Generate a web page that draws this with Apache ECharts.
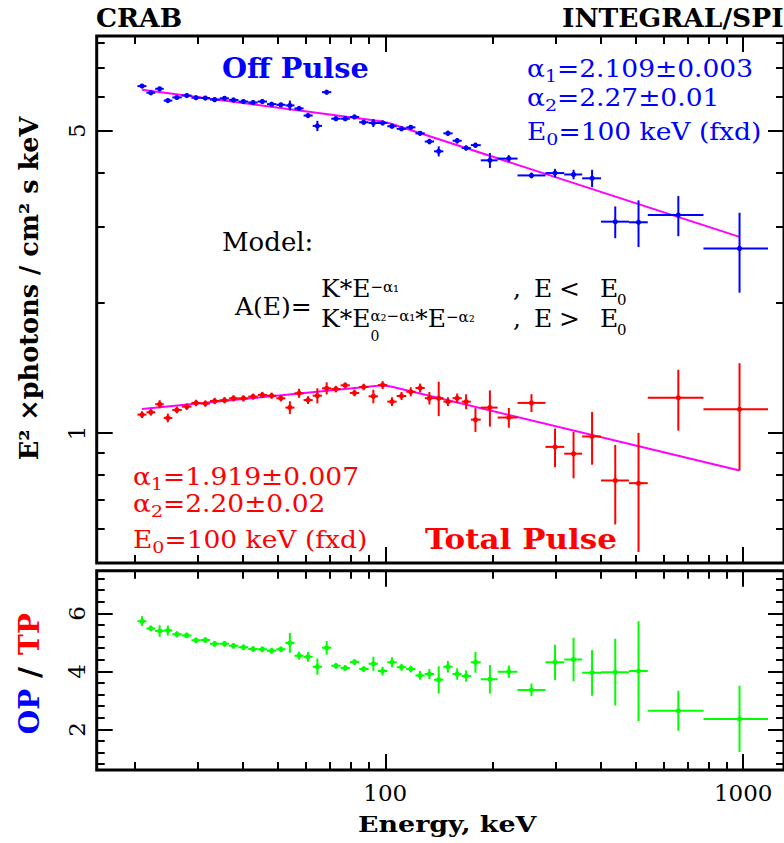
<!DOCTYPE html>
<html><head><meta charset="utf-8">
<script src="https://cdn.jsdelivr.net/npm/echarts@6/dist/echarts.min.js"></script>
<style>html,body{margin:0;padding:0;background:#fff;}#c{width:784px;height:843px;}</style>
</head><body><div id="c"></div>
<script>
// ---------------- data ----------------
const binEdges = [20.30, 21.51, 22.76, 24.04, 25.41, 27.00, 28.73, 30.50, 32.37, 34.43, 36.59, 38.88, 41.41, 44.01, 46.71, 49.60, 52.59, 55.75, 59.12, 62.68, 66.56, 70.63, 74.99, 79.61, 84.53, 89.80, 95.41, 101.3, 107.6, 114.4, 121.4, 128.9, 136.8, 145.3, 154.2, 163.5, 173.4, 184.8, 206.0, 234.1, 280.2, 316.2, 354.8, 400.6, 479.4, 541.2, 774.3, 1173];
const binCenters = [20.91, 22.13, 23.42, 24.69, 26.16, 27.88, 29.60, 31.42, 33.36, 35.55, 37.66, 40.14, 42.71, 45.33, 48.13, 51.08, 54.12, 57.43, 60.83, 64.60, 68.58, 72.77, 77.28, 82.01, 87.00, 92.60, 98.30, 104.4, 111.0, 117.8, 125.1, 132.8, 141.0, 149.6, 158.8, 168.2, 178.6, 196.0, 221.4, 256.1, 298.0, 335.7, 378.2, 439.0, 509.9, 658.7, 976.6];
const offPulse = [6.34, 6.12, 6.25, 5.87, 5.97, 6.03, 5.96, 5.95, 5.90, 5.94, 5.89, 5.84, 5.81, 5.84, 5.76, 5.74, 5.72, 5.63, 5.42, 5.13, 6.14, 5.33, 5.33, 5.38, 5.23, 5.21, 5.21, 5.12, 5.05, 5.09, 4.93, 4.72, 4.48, 4.93, 4.74, 4.56, 4.63, 4.27, 4.31, 3.94, 3.99, 3.96, 3.88, 3.08, 3.07, 3.19, 2.67];
const offPulseErr = [0.06, 0.06, 0.06, 0.06, 0.06, 0.06, 0.06, 0.06, 0.06, 0.06, 0.06, 0.06, 0.06, 0.06, 0.06, 0.06, 0.15, 0.06, 0.07, 0.14, 0.07, 0.06, 0.06, 0.06, 0.06, 0.11, 0.06, 0.06, 0.06, 0.06, 0.06, 0.07, 0.12, 0.07, 0.07, 0.06, 0.06, 0.17, 0.08, 0.06, 0.09, 0.10, 0.18, 0.26, 0.38, 0.34, 0.56];
const totalPulse = [1.102, 1.116, 1.165, 1.083, 1.130, 1.150, 1.173, 1.169, 1.185, 1.190, 1.202, 1.202, 1.213, 1.224, 1.219, 1.202, 1.144, 1.235, 1.191, 1.219, 1.268, 1.263, 1.288, 1.237, 1.277, 1.215, 1.290, 1.181, 1.217, 1.245, 1.270, 1.203, 1.203, 1.181, 1.203, 1.181, 1.073, 1.144, 1.085, 1.173, 0.928, 0.895, 0.981, 0.776, 0.765, 1.206, 1.134];
const totalPulseErr = [0.02, 0.02, 0.025, 0.025, 0.02, 0.02, 0.02, 0.02, 0.02, 0.02, 0.02, 0.02, 0.02, 0.02, 0.02, 0.02, 0.039, 0.03, 0.025, 0.049, 0.041, 0.022, 0.02, 0.022, 0.022, 0.044, 0.027, 0.028, 0.026, 0.03, 0.03, 0.04, 0.11, 0.028, 0.03, 0.047, 0.068, 0.11, 0.057, 0.056, 0.095, 0.11, 0.137, 0.162, 0.235, 0.194, 0.315];
const ratio = [5.73, 5.48, 5.39, 5.41, 5.28, 5.24, 5.07, 5.08, 4.95, 4.95, 4.88, 4.83, 4.77, 4.76, 4.71, 4.76, 4.98, 4.54, 4.50, 4.16, 4.81, 4.19, 4.12, 4.32, 4.08, 4.26, 4.01, 4.31, 4.14, 4.08, 3.86, 3.91, 3.71, 4.16, 3.91, 3.84, 4.31, 3.73, 3.99, 3.36, 4.31, 4.41, 3.95, 3.97, 4.01, 2.64, 2.36];
const ratioErr = [0.17, 0.10, 0.20, 0.17, 0.10, 0.10, 0.10, 0.10, 0.10, 0.10, 0.10, 0.10, 0.10, 0.10, 0.10, 0.10, 0.34, 0.14, 0.17, 0.28, 0.24, 0.10, 0.10, 0.10, 0.10, 0.24, 0.15, 0.17, 0.12, 0.12, 0.15, 0.17, 0.47, 0.20, 0.20, 0.20, 0.36, 0.49, 0.21, 0.22, 0.61, 0.75, 0.79, 1.15, 1.72, 0.69, 1.14];
const offModel = [[20.91, 6.22], [98.3, 5.25], [104.4, 5.18], [976.6, 2.84]];
const totalModel = [[20.91, 1.136], [98.3, 1.288], [104.4, 1.279], [976.6, 0.818]];
const xMajorTicks = [100, 1000];
const xMinorTicks = [20, 30, 40, 50, 60, 70, 80, 90, 200, 300, 400, 500, 600, 700, 800, 900];
const xTickLabels = [100, 1000];
const topMajorTicks = [1, 5];
const topMinorTicks = [0.6, 0.7, 0.8, 0.9, 2, 3, 4, 6, 7, 8];
const topTickLabels = [1, 5];
const botMajorTicks = [2, 4, 6];
const botMinorTicks = [0.8, 1.2, 1.6, 2.4, 2.8, 3.2, 3.6, 4.4, 4.8, 5.2, 5.6, 6.4, 6.8, 7.2];
const botTickLabels = [2, 4, 6];
const xRange = [15.62, 1300];
const topRange = [0.5, 8.28];
const botRange = [0.6, 7.47];

// ---------------- chart ----------------
const chart = echarts.init(document.getElementById('c'), null, {renderer: 'svg', width: 784, height: 843});
const SERIF = '"DejaVu Serif", serif';
const BLUE = '#0000ff', RED = '#ff0000', GREEN = '#00ff00', MAG = '#ff00ff';

function errData(vals, errs) {
  return binCenters.map((c, i) => [c, vals[i], binEdges[i], binEdges[i + 1], vals[i] - errs[i], vals[i] + errs[i]]);
}
function errRender(color) {
  return function (params, api) {
    const c = api.coord([api.value(0), api.value(1)]);
    const l = api.coord([api.value(2), api.value(1)]);
    const r = api.coord([api.value(3), api.value(1)]);
    const lo = api.coord([api.value(0), api.value(4)]);
    const hi = api.coord([api.value(0), api.value(5)]);
    return {type: 'group', children: [
      {type: 'line', shape: {x1: l[0], y1: c[1], x2: r[0], y2: c[1]}, style: {stroke: color, lineWidth: 2}},
      {type: 'line', shape: {x1: c[0], y1: lo[1], x2: c[0], y2: hi[1]}, style: {stroke: color, lineWidth: 2}},
      {type: 'circle', shape: {cx: c[0], cy: c[1], r: 2.6}, style: {fill: color}}
    ]};
  };
}
function mkX(gi, pos, vals, len, labels) {
  return {
    type: 'log', logBase: 10, gridIndex: gi, position: pos, min: xRange[0], max: xRange[1],
    axisLine: {show: false, onZero: false},
    axisTick: {show: true, inside: true, length: len, customValues: vals, lineStyle: {color: '#000', width: 2}},
    axisLabel: labels ? {show: true, customValues: labels, formatter: v => String(Math.round(v)),
      fontFamily: SERIF, fontSize: 23, color: '#000', margin: 11} : {show: false},
    splitLine: {show: false}, minorTick: {show: false}
  };
}
function mkY(gi, pos, type, range, vals, len, labels) {
  const a = {
    type: type, gridIndex: gi, position: pos, min: range[0], max: range[1],
    axisLine: {show: false, onZero: false},
    axisTick: {show: true, inside: true, length: len, customValues: vals, lineStyle: {color: '#000', width: 2}},
    axisLabel: labels ? {show: true, customValues: labels, rotate: 90, formatter: v => String(Math.round(v * 10) / 10),
      fontFamily: SERIF, fontSize: 23, color: '#000', margin: 8} : {show: false},
    splitLine: {show: false}, minorTick: {show: false}
  };
  if (type === 'log') a.logBase = 10;
  return a;
}

// text helpers: texts are placed by their baseline
const mctx = document.createElement('canvas').getContext('2d');
function fontOf(size, weight) { return (weight || 'normal') + ' ' + size + 'px ' + SERIF; }
function textW(t, size, weight) { mctx.font = fontOf(size, weight); return mctx.measureText(t).width; }
function T(x, baseline, text, size, color, weight, sy, align) {
  const s = sy || 1;
  return {type: 'text', x: x, y: baseline - 0.346 * size * s, scaleY: s, silent: true, z: 100,
    style: {text: text, fill: color, font: fontOf(size, weight), align: align || 'left', verticalAlign: 'middle'}};
}
// a run of pieces on one baseline: [text, size, baselineShift, noAdvance]
function run(x0, baseline, pieces, color, sy) {
  const els = []; let x = x0;
  pieces.forEach(p => {
    els.push(T(x, baseline + (p[2] || 0), p[0], p[1], color, 'normal', sy));
    if (!p[3]) x += textW(p[0], p[1]);
  });
  return els;
}
function R(x, y, text, size, color) {
  return {type: 'text', x: x, y: y, rotation: Math.PI / 2, silent: true, z: 100,
    style: {text: text, fill: color, font: fontOf(size, 'bold'), align: 'center', verticalAlign: 'middle'}};
}

const graphics = [
  T(96, 27, 'CRAB', 26.5, '#000', 'bold'),
  T(562, 27, 'INTEGRAL/SPI', 26.5, '#000', 'bold'),
  T(222, 78, 'Off Pulse', 28.8, BLUE, 'bold'),
  T(425, 549, 'Total Pulse', 31, RED, 'bold', 0.9),
  T(358, 831.7, 'Energy, keV', 26.9, '#000', 'bold', 0.8),
  R(29, 288.5, 'E² ×photons / cm² s keV', 25.6, '#000'),
  R(29, 634, 'TP', 28, RED),
  R(29, 672.5, '/', 30, '#000'),
  R(29, 711.5, 'OP', 28, BLUE),
  T(222, 250.7, 'Model:', 26, '#000'),
  T(235, 315, 'A(E)=', 25, '#000'),
  T(513, 296.7, ',', 25, '#000'), T(534, 296.7, 'E', 25, '#000'), T(559, 296.7, '<', 25, '#000'),
  T(600, 296.7, 'E', 25, '#000'), T(617, 305.2, '0', 15, '#000'),
  T(513, 327, ',', 25, '#000'), T(534, 327, 'E', 25, '#000'), T(559, 327, '>', 25, '#000'),
  T(600, 327, 'E', 25, '#000'), T(617, 335.2, '0', 15, '#000')
].concat(
  run(321, 296.7, [['K*E', 25, 0], ['−α₁', 15, -4.5]], '#000'),
  run(321, 327, [['K*E', 25, 0], ['0', 14, 14, true], ['α₂−α₁', 15, -6], ['*E', 25, 0], ['−α₂', 15, -5]], '#000'),
  run(527, 76.7, [['α', 26.5, 0], ['1', 19, 5], ['=2.109±0.003', 26.5, 0]], BLUE, 0.92),
  run(527, 105.5, [['α', 26.5, 0], ['2', 19, 5], ['=2.27±0.01', 26.5, 0]], BLUE, 0.92),
  run(527, 139.5, [['E', 26.5, 0], ['0', 19, 5], ['=100 keV (fxd)', 26.5, 0]], BLUE, 0.92),
  run(133, 485, [['α', 26.5, 0], ['1', 19, 5], ['=1.919±0.007', 26.5, 0]], RED, 0.92),
  run(133, 511.7, [['α', 26.5, 0], ['2', 19, 5], ['=2.20±0.02', 26.5, 0]], RED, 0.92),
  run(133, 548.3, [['E', 26.5, 0], ['0', 19, 5], ['=100 keV (fxd)', 26.5, 0]], RED, 0.92)
);

const GL = 96.7, GW = 691.3;
const option = {
  animation: false,
  backgroundColor: '#fff',
  grid: [
    {left: GL, top: 36, width: GW, height: 527, show: true, borderColor: '#000', borderWidth: 3, backgroundColor: 'rgba(0,0,0,0)'},
    {left: GL, top: 570.7, width: GW, height: 199.3, show: true, borderColor: '#000', borderWidth: 3, backgroundColor: 'rgba(0,0,0,0)'}
  ],
  xAxis: [
    mkX(0, 'bottom', xMajorTicks, 16), mkX(0, 'bottom', xMinorTicks, 8),
    mkX(0, 'top', xMajorTicks, 16), mkX(0, 'top', xMinorTicks, 8),
    mkX(1, 'bottom', xMajorTicks, 16, xTickLabels), mkX(1, 'bottom', xMinorTicks, 8),
    mkX(1, 'top', xMajorTicks, 16), mkX(1, 'top', xMinorTicks, 8)
  ],
  yAxis: [
    mkY(0, 'left', 'log', topRange, topMajorTicks, 16, topTickLabels), mkY(0, 'left', 'log', topRange, topMinorTicks, 8),
    mkY(0, 'right', 'log', topRange, topMajorTicks, 16), mkY(0, 'right', 'log', topRange, topMinorTicks, 8),
    mkY(1, 'left', 'value', botRange, botMajorTicks, 16, botTickLabels), mkY(1, 'left', 'value', botRange, botMinorTicks, 8),
    mkY(1, 'right', 'value', botRange, botMajorTicks, 16), mkY(1, 'right', 'value', botRange, botMinorTicks, 8)
  ],
  series: [
    {type: 'line', xAxisIndex: 0, yAxisIndex: 0, data: offModel, showSymbol: false, silent: true, z: 2,
      lineStyle: {color: MAG, width: 2}},
    {type: 'line', xAxisIndex: 0, yAxisIndex: 0, data: totalModel, showSymbol: false, silent: true, z: 2,
      lineStyle: {color: MAG, width: 2}},
    {type: 'custom', xAxisIndex: 0, yAxisIndex: 0, data: errData(offPulse, offPulseErr), renderItem: errRender(BLUE),
      encode: {x: [0, 2, 3], y: [1, 4, 5]}, clip: true, z: 3},
    {type: 'custom', xAxisIndex: 0, yAxisIndex: 0, data: errData(totalPulse, totalPulseErr), renderItem: errRender(RED),
      encode: {x: [0, 2, 3], y: [1, 4, 5]}, clip: true, z: 3},
    {type: 'custom', xAxisIndex: 4, yAxisIndex: 4, data: errData(ratio, ratioErr), renderItem: errRender(GREEN),
      encode: {x: [0, 2, 3], y: [1, 4, 5]}, clip: true, z: 3}
  ],
  graphic: graphics
};
chart.setOption(option);
</script>
</body></html>
